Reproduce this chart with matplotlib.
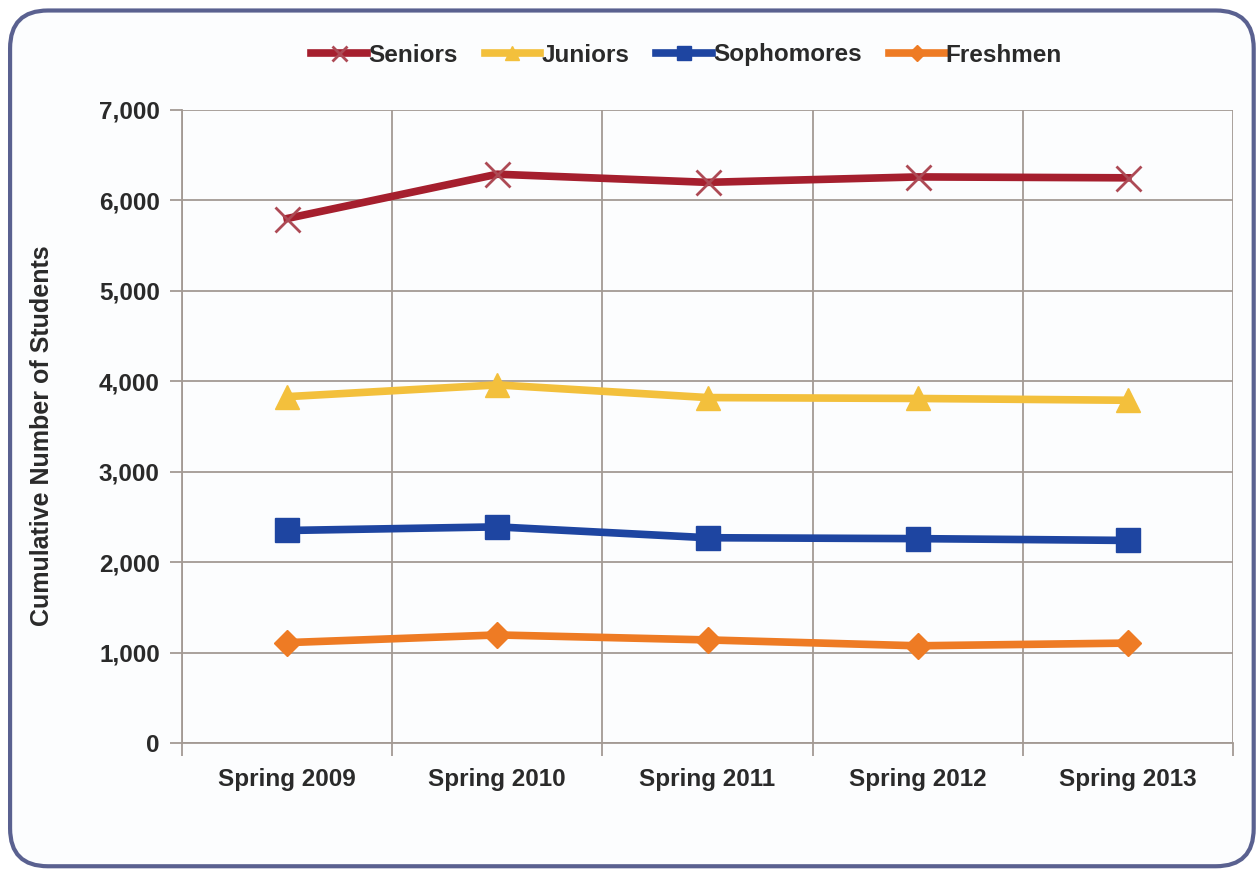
import numpy as np
import matplotlib.pyplot as plt
from matplotlib.patches import FancyBboxPatch
from matplotlib.ticker import FuncFormatter

# data
terms = ['Spring 2009', 'Spring 2010', 'Spring 2011', 'Spring 2012', 'Spring 2013']
seniors = [5800, 6290, 6200, 6260, 6250]
juniors = [3830, 3960, 3820, 3810, 3790]
sophomores = [2350, 2390, 2270, 2260, 2240]
freshmen = [1110, 1195, 1140, 1075, 1105]

plt.rcParams['font.family'] = ['Liberation Sans', 'DejaVu Sans']

fig = plt.figure(figsize=(12.6, 8.75), dpi=100)
fig.patch.set_facecolor('white')

# rounded frame around the chart
box = FancyBboxPatch((0.008, 0.010), 0.987, 0.978, boxstyle='round,pad=0,rounding_size=0.03',
                     transform=fig.transFigure, facecolor='#fcfdfe', edgecolor='#5a6190', lw=3,
                     mutation_aspect=1.44, zorder=-10)
fig.patches.append(box)

ax = fig.add_axes([182/1260, 1-743/875, (1233-182)/1260, (743-110)/875])
ax.set_zorder(2)
ax.set_facecolor('none')

x = np.arange(len(terms))
ax.plot(x, seniors, color='#a51f2e', lw=5.5, marker='x', ms=18, mew=2, mec='#ad4a55', label='Seniors', zorder=5)
ax.plot(x, juniors, color='#f3c03c', lw=5.5, marker='^', ms=17, label='Juniors', zorder=5)
ax.plot(x, sophomores, color='#1e45a1', lw=5.5, marker='s', ms=17, label='Sophomores', zorder=5)
ax.plot(x, freshmen, color='#ee7b24', lw=5.5, marker='D', ms=13, label='Freshmen', zorder=5)

ax.set_xlim(-0.5, 4.5)
ax.set_ylim(0, 7000)
ax.set_yticks(np.arange(0, 7001, 1000))
ax.yaxis.set_major_formatter(FuncFormatter(lambda v, p: f'{int(v):,}'))
ax.set_xticks(x)
ax.set_xticklabels(terms)
ax.set_xticks(np.arange(-0.5, 4.6, 1), minor=True)

gc = '#a39a94'
ax.grid(axis='y', color=gc, lw=1.3)
ax.grid(axis='x', which='minor', color=gc, lw=1.3)
ax.tick_params(axis='x', which='major', length=0, pad=18, labelsize=17.5)
ax.tick_params(axis='x', which='minor', length=9, color=gc, width=1.3)
ax.tick_params(axis='y', length=9, color=gc, width=1.3, pad=7, labelsize=17.5)
for lab in ax.get_xticklabels() + ax.get_yticklabels():
    lab.set_fontweight('bold')
    lab.set_color('#2a2a2a')
for s in ['top', 'right']:
    ax.spines[s].set_visible(False)
ax.spines['left'].set_color(gc)
ax.spines['bottom'].set_color(gc)
ax.spines['left'].set_linewidth(1.3)
ax.spines['bottom'].set_linewidth(1.3)

ax.set_ylabel('Cumulative Number of Students', fontsize=18, fontweight='bold', color='#2a2a2a')
ax.yaxis.set_label_coords(-0.122, 0.485)

leg = fig.legend(loc='center', bbox_to_anchor=(0.545, 1-55/875), ncol=4, frameon=False,
                 prop={'size': 17.5, 'weight': 'bold'}, handlelength=2.3, handletextpad=0.05,
                 columnspacing=1.1, markerscale=0.6)
for t in leg.get_texts():
    t.set_color('#2a2a2a')

plt.savefig('out.png', dpi=100)
